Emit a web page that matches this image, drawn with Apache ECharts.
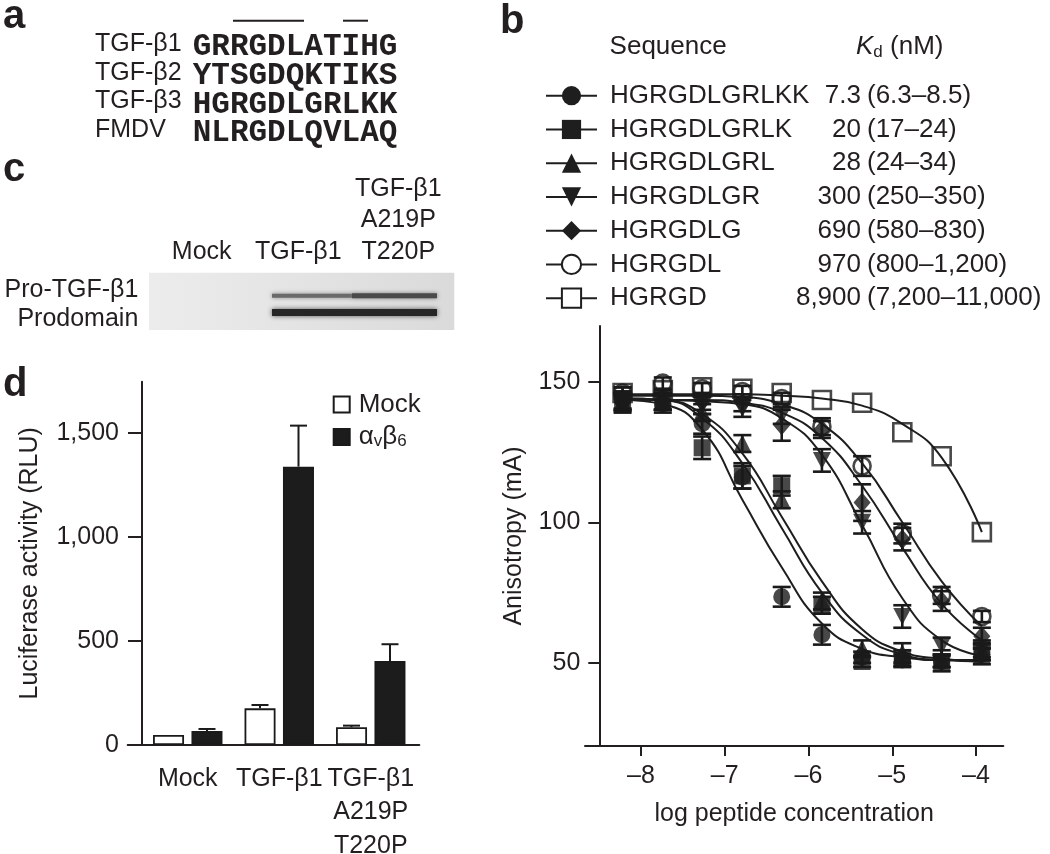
<!DOCTYPE html>
<html>
<head>
<meta charset="utf-8">
<script src="https://cdn.jsdelivr.net/npm/echarts@6/dist/echarts.min.js"></script>
<style>
  html, body { margin: 0; padding: 0; background: #fff; }
  #fig { width: 1050px; height: 854px; }
</style>
</head>
<body>
<div id="fig"></div>
<script>
// ---- panel a: sequence alignment
var alignNames = ['TGF-β1', 'TGF-β2', 'TGF-β3', 'FMDV'];
var alignSeqs = ['GRRGDLATIHG', 'YTSGDQKTIKS', 'HGRGDLGRLKK', 'NLRGDLQVLAQ'];

// ---- panel c: blot
var blotLanes = ['Mock', 'TGF-β1', 'TGF-β1\nA219P\nT220P'];
var blotBands = ['Pro-TGF-β1', 'Prodomain'];

// ---- panel b: peptide titration (fluorescence anisotropy)
var peptides = ['HGRGDLGRLKK', 'HGRGDLGRLK', 'HGRGDLGRL', 'HGRGDLGR', 'HGRGDLG', 'HGRGDL', 'HGRGD'];
var kdValue = ['7.3', '20', '28', '300', '690', '970', '8,900'];
var kdRange = ['(6.3–8.5)', '(17–24)', '(24–34)', '(250–350)', '(580–830)', '(800–1,200)', '(7,200–11,000)'];
var logConc = [-8.22, -7.74, -7.27, -6.79, -6.32, -5.84, -5.36, -4.88, -4.41, -3.93];
var aniso = [
  [143.5, 142, 135, 116, 73.5, 60, 52, 51, 50.5, 53],
  [144, 143.5, 126.5, 116.5, 113, 70.5, 50.5, 51.5, 50, 52.5],
  [143, 143, 139, 128, 108, 72, 55, 53.5, 51.5, 54],
  [142, 143, 141.5, 140.5, 138, 122, 100, 66.5, 56, 55],
  [142.5, 143, 143, 142.5, 134.5, 133, 107, 94, 72, 59.5],
  [146, 149.5, 147.5, 146.5, 144, 134, 120, 96, 74, 66.5],
  [146, 147, 148, 147.5, 146, 143.5, 142.5, 132, 123.5, 96.5]
];
var anisoErr = [
  [3, 3, 3.5, 4, 3.5, 3.5, 2, 2, 2, 2],
  [4, 3.5, 4, 4.5, 3.5, 3, 2, 3, 3, 3],
  [3, 3, 3, 3, 3, 3, 3, 3.5, 3, 3],
  [3, 3, 3, 3, 3, 4, 4, 4, 3, 3],
  [3, 3, 3, 3, 5.5, 3, 6.5, 4, 3.5, 3],
  [2, 2, 2, 2, 2, 3, 3.5, 3.5, 3, 2],
  [0, 0, 0, 0, 0, 0, 0, 0, 0, 0]
];
// fitted curves at the same concentrations
var fitCurve = [
  [143.5, 142, 133, 108, 84, 64, 55, 52, 51, 51],
  [144, 143.5, 137, 121, 98, 75, 60, 53, 51, 50.5],
  [144, 143.5, 138.5, 124.5, 102, 79, 62, 54, 51.5, 50.5],
  [143.5, 143.5, 143, 142, 137, 124, 99, 73, 58, 52.5],
  [143.5, 143.5, 143.5, 142.5, 139, 130, 113, 91, 71, 58],
  [145, 145, 145, 144.5, 142, 135, 121, 100, 79, 63],
  [145.5, 145.5, 145.5, 145.5, 145, 144, 141.5, 135, 123, 96.5]
];
var anisoTicks = [50, 100, 150];
var concTicks = [-8, -7, -6, -5, -4];

// ---- panel d: luciferase reporter
var lucCats = ['Mock', 'TGF-β1', 'TGF-β1\nA219P\nT220P'];
var lucMock = [48, 176, 85];
var lucMockErr = [0, 16, 8];
var lucAvb6 = [67, 1337, 403];
var lucAvb6Err = [10, 197, 81];
var lucTicks = [0, 500, 1000, 1500];

var FONT = '"Liberation Sans", Arial, Helvetica, sans-serif';
var MONO = '"Liberation Mono", "Courier New", monospace';
var INK = '#231f20';

var symbols = ['circle', 'rect', 'triangle', 'path://M0,0L10,0L5,9Z', 'diamond', 'circle', 'rect'];
var legendSymbols = ['circle', 'rect', 'triangle', 'path://M0,0L10,0L5,9Z', 'diamond', 'emptyCircle', 'emptyRect'];
var symSizes = [17, 17, 18, [18, 17], [17, 20], 17, 18];
var hollow = [false, false, false, false, false, true, true];

var myChart = echarts.init(document.getElementById('fig'));

function txt(x, y, s, size, extra) {
  var st = { text: s, x: 0, y: 0, fill: INK, fontFamily: FONT, fontSize: size, align: 'left', verticalAlign: 'middle' };
  for (var k in extra) st[k] = extra[k];
  return { type: 'text', x: x, y: y, style: st, silent: true };
}

var graphics = [];
// panel letters
graphics.push(txt(3, 17, 'a', 40, { fontWeight: 'bold' }));
graphics.push(txt(500, 22, 'b', 40, { fontWeight: 'bold' }));
graphics.push(txt(3, 170, 'c', 40, { fontWeight: 'bold' }));
graphics.push(txt(3, 385, 'd', 40, { fontWeight: 'bold' }));

// panel a
alignNames.forEach(function (n, i) {
  graphics.push(txt(95, 44 + i * 28.7, n, 25));
  graphics.push(txt(192.7, 47.5 + i * 28.7, alignSeqs[i], 31, { fontFamily: MONO, fontWeight: 'bold' }));
});
graphics.push({ type: 'line', shape: { x1: 233, y1: 20.7, x2: 304, y2: 20.7 }, style: { stroke: INK, lineWidth: 2 } });
graphics.push({ type: 'line', shape: { x1: 343, y1: 20.7, x2: 368, y2: 20.7 }, style: { stroke: INK, lineWidth: 2 } });

// panel c
graphics.push(txt(201.7, 251.7, blotLanes[0], 25, { align: 'center' }));
graphics.push(txt(298.3, 251.7, blotLanes[1], 25, { align: 'center' }));
graphics.push(txt(398.3, 220.5, blotLanes[2], 25, { align: 'center', lineHeight: 31.2 }));
graphics.push(txt(138.3, 290, blotBands[0], 25, { align: 'right' }));
graphics.push(txt(138.3, 319, blotBands[1], 25, { align: 'right' }));
graphics.push({
  type: 'rect', shape: { x: 149, y: 272.7, width: 305.3, height: 57.3 },
  style: { fill: new echarts.graphic.LinearGradient(0, 0, 1, 0, [
    { offset: 0, color: '#ececec' }, { offset: 0.35, color: '#e6e6e6' }, { offset: 1, color: '#dadada' }]) },
  silent: true
});
graphics.push({ type: 'rect', shape: { x: 272, y: 293.8, width: 80, height: 4 },
  style: { fill: '#6a6a6a', shadowBlur: 4, shadowColor: '#888' }, silent: true });
graphics.push({ type: 'rect', shape: { x: 352, y: 293.2, width: 85, height: 5 },
  style: { fill: '#4a4a4a', shadowBlur: 4, shadowColor: '#777' }, silent: true });
graphics.push({ type: 'rect', shape: { x: 272, y: 309, width: 165, height: 7 },
  style: { fill: '#262626', shadowBlur: 5, shadowColor: '#555' }, silent: true });

// panel b headers and Kd column
graphics.push(txt(609.6, 46.4, 'Sequence', 26));
graphics.push({
  type: 'text', x: 856, y: 46.4, silent: true,
  style: {
    text: '{k|K}{d|d}{n| (nM)}', verticalAlign: 'middle', fill: INK, fontFamily: FONT, fontSize: 26,
    rich: {
      k: { fontFamily: FONT, fontSize: 26, fontStyle: 'italic', fill: INK, lineHeight: 28 },
      d: { fontFamily: FONT, fontSize: 17, fill: INK, lineHeight: 12, verticalAlign: 'bottom' },
      n: { fontFamily: FONT, fontSize: 26, fill: INK, lineHeight: 28 }
    }
  }
});
var legendTop = 82.7, legendRow = 33.75, legendItemH = 26;
peptides.forEach(function (p, i) {
  var y = legendTop + legendItemH / 2 + i * legendRow;
  graphics.push(txt(861, y, kdValue[i], 26, { align: 'right' }));
  graphics.push(txt(867, y, kdRange[i], 26));
});

// ---- series for panel b
var series = [];
peptides.forEach(function (p, k) {
  series.push({
    name: p, type: 'line', xAxisIndex: 2, yAxisIndex: 2,
    data: logConc.map(function (x, i) { return [x, fitCurve[k][i]]; }),
    smooth: 0.5, showSymbol: false,
    symbol: legendSymbols[k], symbolSize: 18,
    lineStyle: { color: '#1e1e1e', width: 2 },
    itemStyle: { color: '#1e1e1e' },
    silent: true, z: 2
  });
});
peptides.forEach(function (p, k) {
  series.push({
    name: p + ' sem', type: 'custom', xAxisIndex: 2, yAxisIndex: 2,
    data: logConc.map(function (x, i) { return [x, aniso[k][i], anisoErr[k][i]]; }),
    encode: { x: 0, y: 1 }, z: 3, silent: true,
    renderItem: function (params, api) {
      var e = api.value(2);
      if (!e) return null;
      var x = api.value(0), y = api.value(1);
      var lo = api.coord([x, y - e]), hi = api.coord([x, y + e]);
      var w = 9, st = { stroke: '#1a1a1a', lineWidth: 2.6 };
      return { type: 'group', children: [
        { type: 'line', shape: { x1: lo[0], y1: lo[1], x2: hi[0], y2: hi[1] }, style: st },
        { type: 'line', shape: { x1: lo[0] - w, y1: lo[1], x2: lo[0] + w, y2: lo[1] }, style: st },
        { type: 'line', shape: { x1: hi[0] - w, y1: hi[1], x2: hi[0] + w, y2: hi[1] }, style: st }
      ] };
    }
  });
});
[6, 5, 4, 3, 2, 1, 0].forEach(function (k) {
  series.push({
    name: peptides[k] + ' pts', type: 'scatter', xAxisIndex: 2, yAxisIndex: 2,
    data: logConc.map(function (x, i) { return [x, aniso[k][i]]; }),
    symbol: symbols[k], symbolSize: symSizes[k],
    itemStyle: hollow[k]
      ? { color: 'rgba(255,255,255,0)', borderColor: '#1a1a1a', borderWidth: 2.6 }
      : { color: '#1a1a1a' },
    silent: true, z: hollow[k] ? 4 : 5
  });
});

// ---- series for panel d
series.push({
  name: 'Mock', type: 'bar', xAxisIndex: 0, yAxisIndex: 0, data: lucMock,
  barWidth: 31, barGap: '24%',
  itemStyle: { color: '#ffffff', borderColor: '#1a1a1a', borderWidth: 1.8 }, silent: true
});
series.push({
  name: 'αvβ6', type: 'bar', xAxisIndex: 0, yAxisIndex: 0, data: lucAvb6,
  barWidth: 31, barGap: '24%',
  itemStyle: { color: '#1c1c1c', borderColor: '#1a1a1a', borderWidth: 1.8 }, silent: true
});
function lucErr(side) {
  return function (params, api) {
    var i = api.value(0), v = api.value(1), e = api.value(2);
    if (!e) return null;
    var b = api.coord([i, v]), t = api.coord([i, v + e]);
    var cx = b[0] + side * 19.25, w = 8.5, st = { stroke: '#1a1a1a', lineWidth: 2 };
    return { type: 'group', children: [
      { type: 'line', shape: { x1: cx, y1: b[1], x2: cx, y2: t[1] }, style: st },
      { type: 'line', shape: { x1: cx - w, y1: t[1], x2: cx + w, y2: t[1] }, style: st }
    ] };
  };
}
series.push({
  name: 'Mock sem', type: 'custom', xAxisIndex: 0, yAxisIndex: 0, z: 3, silent: true,
  data: lucMock.map(function (v, i) { return [i, v, lucMockErr[i]]; }),
  encode: { x: 0, y: 1 }, renderItem: lucErr(-1)
});
series.push({
  name: 'αvβ6 sem', type: 'custom', xAxisIndex: 0, yAxisIndex: 0, z: 3, silent: true,
  data: lucAvb6.map(function (v, i) { return [i, v, lucAvb6Err[i]]; }),
  encode: { x: 0, y: 1 }, renderItem: lucErr(1)
});

var axisLineStyle = { color: INK, width: 2 };
var labelStyle = { color: INK, fontFamily: FONT, fontSize: 25 };

var option = {
  animation: false,
  backgroundColor: '#ffffff',
  textStyle: { fontFamily: FONT, color: INK },
  graphic: graphics,
  grid: [
    { left: 142, top: 381.7, width: 274.5, height: 363.3, outerBoundsMode: 'none' },
    { left: 127.7, top: 381.7, width: 291.6, height: 363.3, outerBoundsMode: 'none' },
    { left: 585, top: 326, width: 418.3, height: 420, outerBoundsMode: 'none' }
  ],
  xAxis: [
    {
      gridIndex: 0, type: 'category', data: lucCats,
      axisLine: { lineStyle: axisLineStyle },
      axisTick: { alignWithLabel: true, length: 12, lineStyle: axisLineStyle },
      axisLabel: { color: INK, fontFamily: FONT, fontSize: 25, lineHeight: 33.5, margin: 17, interval: 0 },
      splitLine: { show: false }
    },
    {
      gridIndex: 1, type: 'value', min: 0, max: 1,
      axisLine: { onZero: false, lineStyle: axisLineStyle },
      axisTick: { show: false }, axisLabel: { show: false }, splitLine: { show: false }
    },
    {
      gridIndex: 2, type: 'value', min: -8.669, max: -3.674,
      axisLine: { onZero: false, lineStyle: axisLineStyle },
      axisTick: { length: 10, lineStyle: axisLineStyle, customValues: concTicks },
      axisLabel: {
        color: INK, fontFamily: FONT, fontSize: 25, margin: 18, customValues: concTicks,
        formatter: function (v) { return '\u2013' + Math.abs(v); }
      },
      splitLine: { show: false },
      name: 'log peptide concentration', nameLocation: 'middle', nameGap: 56,
      nameTextStyle: labelStyle
    }
  ],
  yAxis: [
    {
      gridIndex: 0, type: 'value', min: 0, max: 1745,
      axisLine: { show: true, onZero: false, lineStyle: axisLineStyle },
      axisTick: { show: true, length: 14, lineStyle: axisLineStyle, customValues: lucTicks },
      axisLabel: {
        color: INK, fontFamily: FONT, fontSize: 25, margin: 23, customValues: lucTicks,
        formatter: function (v) { return v.toLocaleString('en-US'); }
      },
      splitLine: { show: false },
      name: 'Luciferase activity (RLU)', nameLocation: 'middle', nameGap: 99, nameRotate: 90,
      nameTextStyle: labelStyle
    },
    { gridIndex: 1, type: 'value', show: false, min: 0, max: 1 },
    {
      gridIndex: 2, type: 'value', min: 20.45, max: 169.8, offset: -14.3,
      axisLine: { show: true, onZero: false, lineStyle: axisLineStyle },
      axisTick: { show: true, length: 11, lineStyle: axisLineStyle, customValues: anisoTicks },
      axisLabel: { color: INK, fontFamily: FONT, fontSize: 25, margin: 19, customValues: anisoTicks },
      splitLine: { show: false },
      name: 'Anisotropy (mA)', nameLocation: 'middle', nameGap: 73, nameRotate: 90,
      nameTextStyle: labelStyle
    }
  ],
  legend: [
    {
      data: peptides, orient: 'vertical', left: 545, top: legendTop, padding: 0,
      itemWidth: 51, itemHeight: 24, itemGap: legendRow - legendItemH, selectedMode: false,
      formatter: '{n|{name}}',
      textStyle: {
        color: INK, fontFamily: FONT, fontSize: 26,
        rich: {
          n: { fontFamily: FONT, fontSize: 26, color: INK, padding: [0, 0, 0, 8], lineHeight: 24 }
        }
      }
    },
    {
      data: ['Mock', 'αvβ6'], orient: 'vertical', left: 332.7, top: 391.5, padding: 0,
      itemWidth: 16, itemHeight: 16, itemGap: 6.5, icon: 'rect', selectedMode: false,
      formatter: function (name) {
        return name === 'Mock' ? '{f|Mock}' : '{f|α}{s|v}{m|β}{s|6}';
      },
      textStyle: {
        color: INK, fontFamily: FONT, fontSize: 26,
        rich: {
          f: { fontFamily: FONT, fontSize: 26, color: INK, lineHeight: 26, padding: [0, 0, 0, 4] },
          m: { fontFamily: FONT, fontSize: 26, color: INK, lineHeight: 26 },
          s: { fontFamily: FONT, fontSize: 17, color: INK, lineHeight: 13, verticalAlign: 'bottom' }
        }
      }
    }
  ],
  series: series
};

myChart.setOption(option);
</script>
</body>
</html>
